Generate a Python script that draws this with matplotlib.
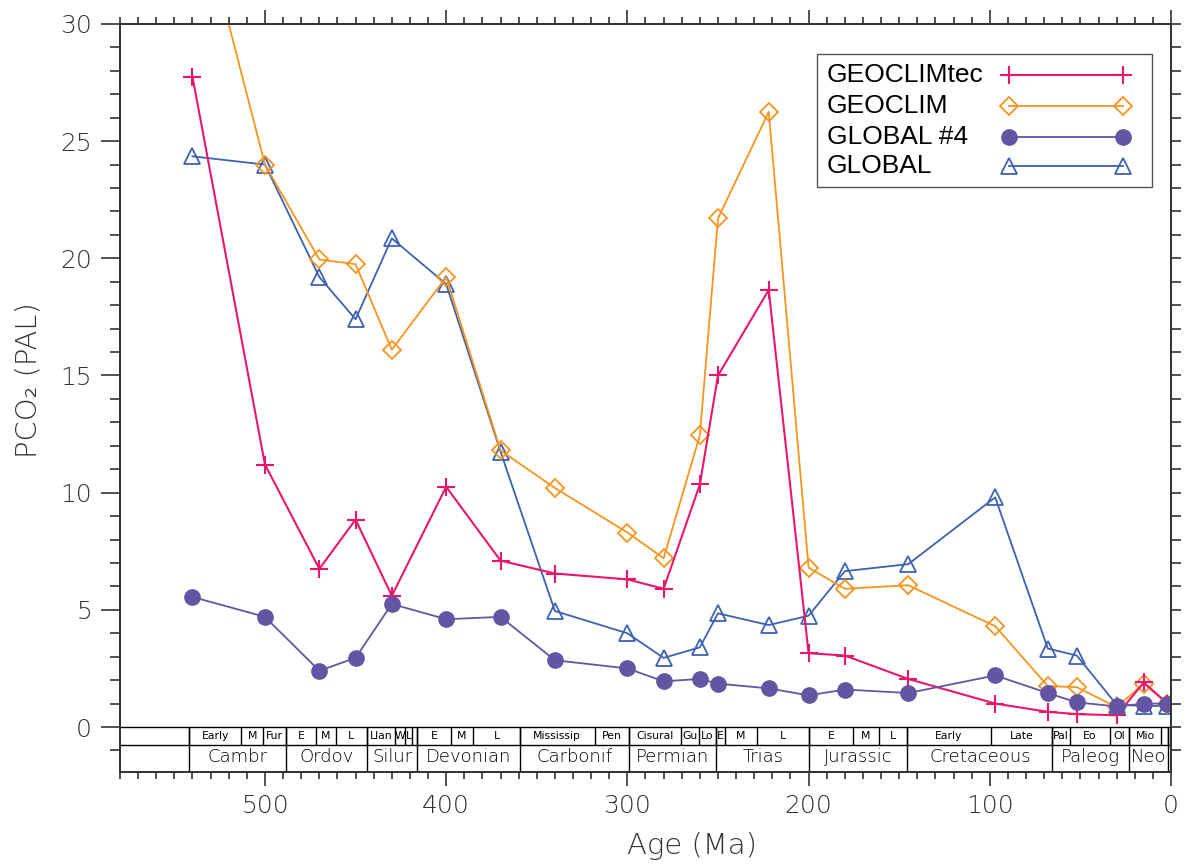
import numpy as np
import matplotlib
matplotlib.use("Agg")
import matplotlib.pyplot as plt
from matplotlib.ticker import MultipleLocator
from matplotlib.patches import Rectangle

# ages (Ma) shared by all runs
age = [540, 500, 470, 450, 430, 400, 370, 340, 300, 280, 260, 250, 222,
       200, 180, 145, 97, 68, 52, 30, 15, 2]

# PCO2 (PAL) for each model
geoclimtec = [27.75, 11.2, 6.75, 8.85, 5.6, 10.25, 7.1, 6.55, 6.3, 5.9, 10.35,
              15.0, 18.65, 3.15, 3.05, 2.05, 1.0, 0.65, 0.55, 0.5, 1.9, 1.0]
geoclim = [36.0, 24.0, 19.95, 19.75, 16.1, 19.2, 11.8, 10.2, 8.3, 7.2, 12.45,
           21.7, 26.25, 6.8, 5.9, 6.05, 4.3, 1.75, 1.7, 0.85, 1.85, 1.0]
global4 = [5.55, 4.7, 2.4, 2.95, 5.25, 4.6, 4.7, 2.85, 2.5, 1.95, 2.05, 1.85,
           1.65, 1.35, 1.6, 1.45, 2.2, 1.45, 1.05, 0.88, 1.0, 1.0]
global_ = [24.35, 24.0, 19.2, 17.4, 20.85, 18.9, 11.75, 4.95, 4.0, 2.95, 3.4,
           4.85, 4.35, 4.75, 6.65, 6.95, 9.8, 3.35, 3.05, 0.95, 0.9, 0.9]

# geological time scale (GTS 2004) for the band under the curves
period_names = ["Cambr", "Ordov", "Silur", "Devonian", "Carbonif", "Permian",
                "Trias", "Jurassic", "Cretaceous", "Paleog", "Neo", ""]
period_bounds = [542.0, 488.3, 443.7, 416.0, 359.2, 299.0, 251.0, 199.6,
                 145.5, 65.5, 23.03, 1.8, 0.0]
epoch_names = ["Early", "M", "Fur", "E", "M", "L", "Llan", "W", "L", "",
               "E", "M", "L", "Mississip", "Pen", "Cisural", "Gu", "Lo",
               "E", "M", "L", "E", "M", "L", "Early", "Late", "Pal", "Eo",
               "Ol", "Mio", "", ""]
epoch_bounds = [542.0, 513.0, 501.0, 488.3, 471.8, 460.9, 443.7, 428.2, 422.9,
                418.7, 416.0, 397.5, 385.3, 359.2, 318.1, 299.0, 270.6, 260.4,
                251.0, 245.9, 228.7, 199.6, 175.6, 161.2, 145.5, 99.6, 65.5,
                55.8, 33.9, 23.03, 5.33, 1.8, 0.0]

plt.rcParams['font.family'] = ['DejaVu Sans']
fig = plt.figure(figsize=(11.88, 8.65), dpi=100)
ax = fig.add_axes([0.101, 0.1075, 0.8847, 0.8648])

ymin = -1.92
row_split = -0.75

styles = {
    'GLOBAL': dict(color='#3B62B0', lw=1.3, marker='^', ms=12, mfc='none',
                   mec='#3B62B0', mew=1.3, zorder=3),
    'GEOCLIM': dict(color='#F7941D', lw=1.3, marker='D', ms=9.5, mfc='none',
                    mec='#F7941D', mew=1.3, zorder=4),
    'GEOCLIMtec': dict(color='#E8176B', lw=1.5, marker='+', ms=13, mew=1.5,
                       zorder=5),
    'GLOBAL #4': dict(color='#6354A4', lw=1.3, marker='o', ms=11,
                      mfc='#6354A4', mec='#6354A4', zorder=6),
}
series = {'GLOBAL': global_, 'GEOCLIM': geoclim, 'GEOCLIMtec': geoclimtec,
          'GLOBAL #4': global4}
for name, vals in series.items():
    ax.plot(age, vals, **styles[name])

# time scale band
ax.axhline(0, color='black', lw=1.0, zorder=2)
ax.axhline(row_split, color='black', lw=1.0, zorder=2)
ax.vlines(period_bounds[:-1], ymin, 0, color='black', lw=1.0, zorder=2)
ax.vlines(epoch_bounds[:-1], row_split, 0, color='black', lw=1.0, zorder=2)
for i, name in enumerate(period_names):
    xm = 0.5 * (period_bounds[i] + period_bounds[i + 1])
    ax.text(xm, 0.5 * (row_split + ymin) + 0.05, name, ha='center',
            va='center', fontsize=13, fontweight='light', color='black')
for i, name in enumerate(epoch_names):
    xm = 0.5 * (epoch_bounds[i] + epoch_bounds[i + 1])
    ax.text(xm, 0.5 * row_split, name, ha='center', va='center',
            fontsize=7.8, color='black')

ax.set_xlim(580, 0)
ax.set_ylim(ymin, 30)

ax.xaxis.set_major_locator(MultipleLocator(100))
ax.xaxis.set_minor_locator(MultipleLocator(10))
ax.yaxis.set_minor_locator(MultipleLocator(1))
ax.set_yticks(np.arange(0, 31, 5))

ax.tick_params(axis='x', which='major', direction='out', length=10,
               width=1.2, top=True, labelsize=18, pad=6, colors='#333333')
ax.tick_params(axis='x', which='minor', direction='out', length=5,
               width=1.2, top=True, colors='#333333')
ax.tick_params(axis='y', which='major', direction='out', length=14,
               width=1.2, right=False, labelsize=18, pad=6, colors='#333333')
ax.tick_params(axis='y', which='minor', direction='out', length=7,
               width=1.2, right=False, colors='#333333')
for lab in ax.get_xticklabels() + ax.get_yticklabels():
    lab.set_fontweight('light')

# right-hand ticks every unit
ax2 = ax.twinx()
ax2.set_ylim(ymin, 30)
ax2.yaxis.set_major_locator(MultipleLocator(1))
ax2.tick_params(axis='y', direction='out', length=7, width=1.2,
                labelright=False, colors='#333333')

for a in (ax, ax2):
    for s in a.spines.values():
        s.set_linewidth(1.3)
        s.set_color('#333333')

ax.set_xlabel('Age (Ma)', fontsize=21, fontweight='light', color='#333333')
ax.xaxis.set_label_coords(0.544, -0.080)
ax.set_ylabel('PCO₂ (PAL)', fontsize=21, fontweight='light',
              color='#333333')
ax.yaxis.set_label_coords(-0.074, 0.524)

# legend box: text on the left, sample line with two markers on the right
leg_names = ['GEOCLIMtec', 'GEOCLIM', 'GLOBAL #4', 'GLOBAL']
leg_rows = [0.9318, 0.8904, 0.8493, 0.8102]
ax2.add_patch(Rectangle((0.6632, 0.7821), 0.3187, 0.1778,
                        transform=ax.transAxes, facecolor='white',
                        edgecolor='#555555', lw=1.0, zorder=10,
                        clip_on=False))
for name, yr in zip(leg_names, leg_rows):
    ax2.text(0.6727, yr, name, transform=ax.transAxes, ha='left',
             va='center', fontsize=19, family='Liberation Sans',
             color='black', zorder=11)
    ax2.plot([0.8459, 0.9543], [yr, yr], transform=ax.transAxes,
             clip_on=False, **{**styles[name], 'zorder': 11})

fig.savefig('out.png', dpi=100)
